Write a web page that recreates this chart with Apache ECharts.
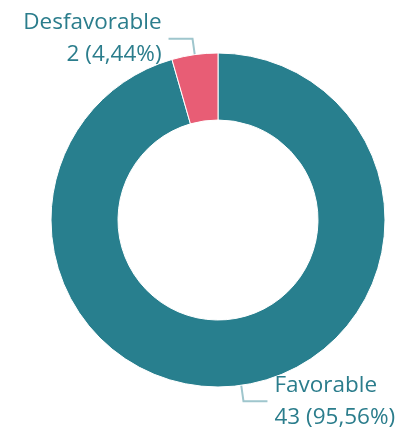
<!DOCTYPE html>
<html><head><meta charset="utf-8">
<script src="https://cdn.jsdelivr.net/npm/echarts@6/dist/echarts.min.js"></script>
<style>html,body{margin:0;padding:0;background:#fff}#c{width:403px;height:437px}</style>
</head><body><div id="c"></div>
<script>
const categories = ['Favorable', 'Desfavorable'];
const values = [43, 2];
const percents = ['95,56%', '4,44%'];
const colors = ['#287f8e', '#e85d75'];

const chart = echarts.init(document.getElementById('c'), null, {renderer: 'canvas'});
chart.setOption({
  animation: false,
  series: [{
    type: 'pie',
    center: [218, 220],
    radius: [100, 167],
    startAngle: 90,
    clockwise: true,
    itemStyle: {borderColor: '#fff', borderWidth: 1},
    label: {
      show: true,
      position: 'outside',
      overflow: 'none',
      fontFamily: 'Open Sans',
      fontSize: 22.5,
      lineHeight: 32,
      color: '#2b7d8c',
      distanceToLabelLine: 7,
      formatter: function (p) { return p.name + '\n' + p.value + ' (' + percents[p.dataIndex] + ')'; }
    },
    labelLine: {
      show: true,
      length: 16,
      length2: 24,
      lineStyle: {color: '#9fc6cd', width: 2}
    },
    data: categories.map((c, i) => ({name: c, value: values[i], itemStyle: {color: colors[i]}}))
  }]
});
</script></body></html>
